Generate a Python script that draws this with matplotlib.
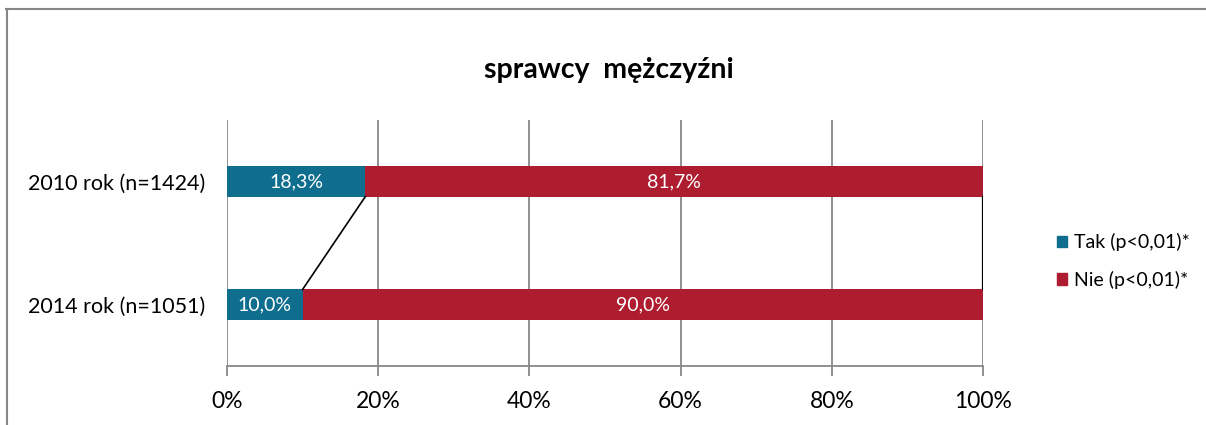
import matplotlib.pyplot as plt
from matplotlib.lines import Line2D
from matplotlib.patches import Patch

plt.rcParams['font.family'] = ['Lato', 'DejaVu Sans']

# data
years = ["2010 rok (n=1424)", "2014 rok (n=1051)"]
tak = [18.3, 10.0]
nie = [81.7, 90.0]
tak_labels = ["18,3%", "10,0%"]
nie_labels = ["81,7%", "90,0%"]
legend_labels = ["Tak (p<0,01)*", "Nie (p<0,01)*"]

blue = "#0F6D8E"
red = "#AE1C2F"
grid_gray = "#888888"
bh = 0.245

fig = plt.figure(figsize=(12.06, 4.25), dpi=100)
ax = fig.add_axes([227 / 1206, 59 / 425, 756 / 1206, 246 / 425])

ypos = list(range(len(years)))
ax.barh(ypos, tak, height=bh, color=blue, zorder=3)
ax.barh(ypos, nie, left=tak, height=bh, color=red, zorder=3)

for i in ypos:
    ax.text(tak[i] / 2, i, tak_labels[i], ha="center", va="center",
            color="white", fontsize=14, zorder=4)
    ax.text(tak[i] + nie[i] / 2, i, nie_labels[i], ha="center", va="center",
            color="white", fontsize=14, zorder=4)

# series lines between the bars
ax.plot([tak[0], tak[1]], [bh / 2, 1 - bh / 2], color="black", lw=1.2, zorder=4)
ax.plot([tak[0] + nie[0], tak[1] + nie[1]], [bh / 2, 1 - bh / 2],
        color="black", lw=1.6, zorder=4)

ax.set_xlim(0, 100)
ax.set_ylim(1.5, -0.5)
ax.set_xticks([0, 20, 40, 60, 80, 100])
ax.set_xticklabels(["0%", "20%", "40%", "60%", "80%", "100%"], fontsize=16.5)
ax.set_yticks(ypos)
ax.set_yticklabels(years, fontsize=15.5)
ax.tick_params(axis="y", length=0, pad=16)
ax.tick_params(axis="x", length=7, width=1.3, color=grid_gray, pad=11)
ax.grid(axis="x", color=grid_gray, lw=1.3, zorder=0)
for s in ["top", "right"]:
    ax.spines[s].set_visible(False)
ax.spines["left"].set_visible(False)
ax.spines["bottom"].set_color(grid_gray)
ax.spines["bottom"].set_linewidth(1.3)

fig.text(609 / 1206, 1 - 70 / 425, "sprawcy  mężczyźni", ha="center", va="center",
         fontsize=20.5, fontweight="bold")

handles = [Patch(color=blue), Patch(color=red)]
fig.legend(handles, legend_labels, loc="center left",
           bbox_to_anchor=(1039 / 1206, 1 - 261 / 425), frameon=False,
           fontsize=14, handlelength=0.55, handleheight=0.55, handletextpad=0.35,
           labelspacing=1.0)

# outer chart border (top and left)
fig.add_artist(Line2D([6 / 1206, 1], [1 - 9 / 425, 1 - 9 / 425],
                      transform=fig.transFigure, color="#868686", lw=1.5))
fig.add_artist(Line2D([7 / 1206, 7 / 1206], [0, 1 - 9 / 425],
                      transform=fig.transFigure, color="#868686", lw=1.5))

fig.savefig("out.png", dpi=100)
